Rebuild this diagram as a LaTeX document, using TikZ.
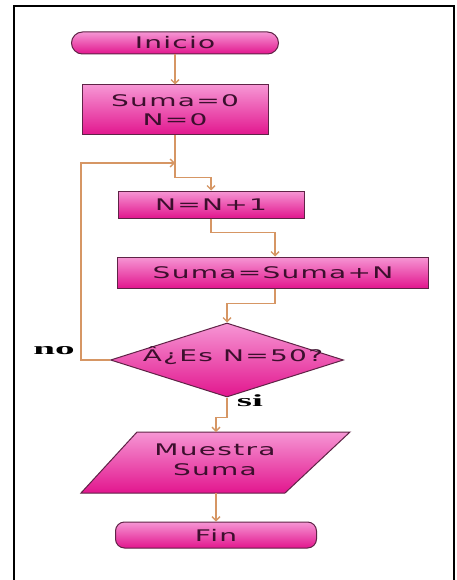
\documentclass[tikz,border=0pt]{standalone}
\usepackage{fontspec}
\usetikzlibrary{shapes.geometric,arrows.meta,calc}
\newfontfamily\boxfont[FakeStretch=1.75,LetterSpace=8]{DejaVu Sans}
\newfontfamily\labfont[FakeStretch=2.3]{Liberation Serif}
\definecolor{ptop}{RGB}{246,150,212}
\definecolor{pbot}{RGB}{226,22,142}
\definecolor{pedge}{RGB}{95,35,70}
\definecolor{ptext}{RGB}{60,15,45}
\definecolor{conn}{RGB}{214,150,100}
\tikzset{
  x=1pt,y=-1pt,
  shapebase/.style={draw=pedge,line width=1pt,top color=ptop,bottom color=pbot,inner sep=0pt,
     text=ptext,font=\boxfont\fontsize{16}{19}\selectfont,align=center},
  term/.style={shapebase,rounded corners=11pt},
  procbox/.style={shapebase},
  decis/.style={shapebase,diamond,aspect=3.15},
  txt/.style={text=ptext,font=\boxfont\fontsize{16}{20}\selectfont,align=center,inner sep=0pt},
  lab/.style={text=black,font=\labfont\bfseries\fontsize{17}{17}\selectfont,inner sep=0pt},
  conn/.style={draw=conn,line width=1.4pt},
  arr/.style={conn,-{Straight Barb[length=4pt,width=8pt]}},
}
\begin{document}
\begin{tikzpicture}
\useasboundingbox (0,0) rectangle (456,580);
\fill[white] (0,0) rectangle (456,580);
% frame
\draw[black,line width=2pt] (14,582) -- (14,6) -- (454,6) -- (454,582);

\node[term,minimum width=207pt,minimum height=22pt] (ini) at (175,43) {Inicio};
\node[procbox,minimum width=186pt,minimum height=50pt] (init) at (175,110) {Suma=0\\N=0};
\node[procbox,minimum width=186pt,minimum height=27pt] (inc) at (211,204.5) {N=N+1};
\node[procbox,minimum width=311pt,minimum height=31pt] (acc) at (273,272.5) {Suma=Suma+N};
\node[decis,minimum width=233pt,minimum height=74pt] (q) at (227,360) {};
\node[txt] (qt) at (233,356) {Â¿Es N=50?};

% parallelogram
\coordinate (pTL) at (137,432);
\coordinate (pTR) at (350,432);
\coordinate (pBR) at (285,493);
\coordinate (pBL) at (81,493);
\shade[draw=pedge,line width=1pt,top color=ptop,bottom color=pbot] (pTL) -- (pTR) -- (pBR) -- (pBL) -- cycle;
\node[txt] (mues) at (215,460) {Muestra\\Suma};
\coordinate (muesN) at (216,432);
\coordinate (muesS) at (216,493);

\node[term,rounded corners=9pt,minimum width=201pt,minimum height=26pt] (fin) at (216,535) {Fin};

% connectors
\coordinate (lpc) at (81,163);
\coordinate (merge) at (175,163);
\draw[arr] (ini.south) -- (init.north);
\draw[arr] (init.south) -- ++(0,42) -| (inc.north);
\draw[arr] (q.west) -| (lpc) -- (merge);
\draw[arr] (inc.south) -- ++(0,14) -| ($(acc.north)+(2,0)$);
\draw[arr] ($(acc.south)+(2,0)$) -- ++(0,15) -| (q.north);
\draw[arr] (q.south) -- ++(0,20) -| (muesN);
\draw[arr] (muesS) -- (fin.north);

\node[lab] (no) at (54,351) {no};
\node[lab] (si) at (250,401) {si};
\end{tikzpicture}
\end{document}
